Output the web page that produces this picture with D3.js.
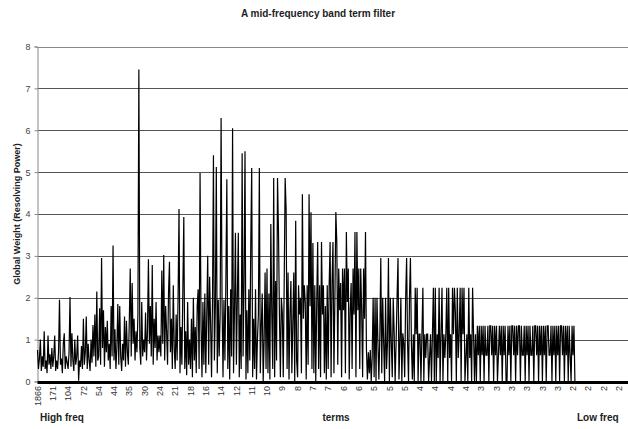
<!DOCTYPE html>
<html>
<head>
<meta charset="utf-8">
<script src="https://cdn.jsdelivr.net/npm/d3@7"></script>
<style>
body { margin: 0; background: #fff; }
text { font-family: Arial, 'Liberation Sans', sans-serif; }
</style>
</head>
<body>
<svg id="chart" width="628" height="429"></svg>
<script>
// term frequency shown under every 16th term
const termFreqLabels = ['1866', '171', '104', '72', '54', '44', '35', '30', '24', '21', '18', '16', '14',
    '12', '11', '10', '9', '8', '7', '7', '6', '6', '5', '5', '5', '4', '4', '4', '4',
    '3', '3', '3', '3', '3', '3', '2', '2', '2', '2'];

// global weight per term, high frequency terms first (one row = one label step)
const highFreqWeights = [
    0.75, 0.3, 0.55, 1.0, 0.25, 0.6, 0.35, 1.2, 0.3, 0.5, 0.2, 1.1, 0.4, 0.65, 0.3, 0.8,
    0.35, 0.6, 1.1, 0.25, 0.5, 0.3, 0.7, 1.95, 0.4, 0.55, 0.2, 0.9, 1.15, 0.3, 0.6, 0.45,
    0.3, 0.7, 2.02, 0.35, 1.15, 0.5, 0.25, 1.0, 0.4, 0.6, 1.1, 0.02, 0.5, 0.35, 0.85, 0.3,
    1.5, 0.4, 0.7, 1.55, 0.3, 0.9, 0.5, 0.25, 1.0, 0.45, 1.35, 0.6, 1.6, 0.35, 2.15, 0.5,
    0.6, 1.75, 0.4, 2.95, 0.8, 1.7, 0.35, 1.3, 0.7, 1.45, 0.5, 0.9, 0.3, 1.8, 0.6, 3.25,
    0.5, 1.25, 0.3, 0.8, 1.85, 0.4, 1.8, 0.6, 0.25, 0.9, 0.5, 1.55, 0.35, 1.45, 0.7, 0.4,
    1.45, 2.7, 0.6, 2.35, 0.9, 1.5, 0.5, 1.2, 0.7, 1.6, 7.45, 0.8, 0.4, 1.9, 0.6, 1.0,
    0.7, 1.65, 0.5, 1.2, 2.92, 0.9, 1.8, 0.6, 2.78, 0.4, 1.5, 0.8, 1.9, 0.5, 1.1, 0.7,
    1.1, 0.6, 2.65, 0.9, 3.02, 0.5, 1.8, 1.2, 0.4, 2.1, 2.86, 0.7, 1.5, 0.3, 2.3, 0.8,
    0.3, 1.6, 0.5, 2.0, 4.12, 0.2, 1.3, 0.4, 2.2, 3.93, 0.3, 1.2, 0.15, 1.9, 0.4, 1.0,
    0.3, 1.5, 0.1, 2.0, 0.5, 1.3, 0.2, 1.8, 2.2, 0.3, 4.98, 1.4, 0.1, 1.9, 0.4, 2.1,
    0.2, 1.6, 3.0, 0.4, 2.5, 1.4, 0.1, 1.9, 5.4, 0.5, 1.8, 5.12, 0.2, 1.95, 0.6, 1.6,
    6.29, 1.9, 0.1, 1.95, 0.5, 2.4, 4.83, 0.3, 1.8, 0.05, 2.2, 0.6, 6.05, 0.2, 1.7, 3.55
];

const midFreqWeights = [
    0.4, 2.0, 3.55, 0.1, 1.6, 0.3, 5.45, 0.6, 2.4, 5.5, 0.05, 1.7, 0.2, 2.2, 0.5, 3.2,
    5.1, 0.1, 1.5, 0.3, 2.2, 0.05, 1.0, 1.6, 5.1, 0.2, 1.3, 2.1, 0.0, 1.0, 2.6, 0.3,
    2.7, 0.2, 2.1, 0.05, 3.76, 1.6, 0.3, 4.86, 0.1, 2.4, 0.5, 4.86, 3.6, 1.6, 0.1, 2.0,
    1.65, 0.1, 2.4, 4.86, 4.1, 0.3, 2.6, 0.05, 1.6, 2.4, 0.2, 1.4, 2.6, 0.0, 3.84, 0.5,
    0.1, 2.3, 1.6, 2.0, 0.2, 4.47, 1.5, 2.3, 1.9, 0.05, 2.3, 0.4, 4.47, 1.8, 4.04, 0.3,
    3.31, 0.2, 2.3, 0.0, 1.9, 3.33, 0.3, 2.3, 0.1, 3.33, 1.6, 2.3, 0.2, 1.8, 0.05, 2.3,
    0.3, 2.3, 3.33, 0.1, 2.35, 3.33, 0.2, 2.0, 4.05, 3.33, 0.4, 2.7, 1.7, 2.35, 0.1, 2.7,
    1.7, 2.7, 0.2, 3.57, 1.9, 2.7, 0.05, 1.7, 2.35, 0.3, 2.7, 1.6, 3.57, 0.1, 3.57, 1.7,
    2.7, 0.3, 2.7, 1.7, 0.1, 2.7, 1.5, 3.57, 0.75, 0.05, 0.7, 0.2, 0.75, 0.0, 0.6, 2.0,
    0.1, 2.0, 0.0, 2.0, 0.92, 0.05, 1.1, 2.95, 0.2, 2.0, 0.92, 0.0, 2.0, 0.3, 0.92, 2.95,
    0.0, 2.0, 0.92, 0.1, 2.0, 1.15, 0.0, 0.92, 2.0, 2.95, 0.05, 0.92, 2.0, 0.0, 1.15, 0.92,
    0.1, 2.0, 2.95, 0.92, 0.0, 2.0, 2.95, 0.92, 0.05, 1.13, 0.0, 2.24, 1.13, 2.24, 0.0, 1.13
];

const lowFreqWeights = [
    1.13, 0.0, 1.13, 2.24, 0.0, 1.13, 0.56, 1.13, 1.13, 0.0, 0.56, 1.13, 0.0, 1.13, 2.24, 0.0,
    2.24, 0.0, 1.13, 0.56, 2.24, 0.0, 1.13, 2.24, 0.0, 1.13, 0.56, 1.13, 2.24, 0.0, 2.24, 0.56,
    1.13, 0.0, 2.24, 1.13, 2.24, 1.65, 0.0, 2.24, 0.56, 1.13, 2.24, 0.0, 2.24, 1.13, 2.24, 0.0,
    0.56, 1.13, 0.0, 2.24, 0.56, 1.13, 0.0, 2.24, 1.13, 0.0, 1.13, 0.0, 1.33, 0.63, 1.33, 0.0,
    1.33, 0.63, 1.33, 0.0, 1.33, 0.63, 0.63, 1.33, 0.0, 1.33, 1.33, 0.63, 1.33, 0.0, 1.33, 0.63,
    1.33, 0.0, 0.63, 1.33, 0.63, 1.33, 0.0, 1.33, 0.63, 1.33, 0.0, 0.0, 1.33, 0.63, 1.33, 0.0,
    1.33, 1.33, 0.63, 1.33, 0.0, 1.33, 0.63, 1.33, 1.33, 0.0, 1.33, 0.63, 0.63, 1.33, 0.0, 1.33,
    0.63, 1.33, 0.0, 1.33, 0.63, 0.63, 1.33, 0.0, 1.33, 1.33, 0.63, 1.33, 0.0, 1.33, 0.63, 1.33,
    0.0, 1.33, 0.63, 1.33, 0.0, 1.33, 1.33, 0.63, 0.63, 1.33, 0.0, 1.33, 0.63, 1.33, 0.0, 1.33,
    0.63, 1.33, 0.0, 1.33, 1.33, 0.63, 1.33, 0.0, 1.33, 0.63, 1.33, 0.0, 1.33, 0.63, 0.0, 1.33,
    0.63, 1.33, 0, 0, 0, 0, 0, 0, 0, 0, 0, 0, 0, 0, 0, 0,
    0, 0, 0, 0, 0, 0, 0, 0, 0, 0, 0, 0, 0, 0, 0, 0,
    0, 0, 0, 0, 0, 0, 0, 0, 0, 0, 0, 0, 0, 0, 0, 0,
    0, 0, 0, 0, 0, 0, 0, 0, 0, 0
];

const weightTicks = [0, 1, 2, 3, 4, 5, 6, 7, 8];

const weights = highFreqWeights.concat(midFreqWeights, lowFreqWeights);
const pointsPerLabel = 16;

const width = 628;
const height = 429;
const margin = {top: 46.5, left: 37.5, bottom: 47.5};
const labelStep = 15.3;

const svg = d3.select('#chart');

const x = d3.scaleLinear()
    .domain([0, weights.length - 1])
    .range([margin.left, margin.left + (weights.length - 1) * labelStep / pointsPerLabel]);
const y = d3.scaleLinear()
    .domain([0, 8])
    .range([height - margin.bottom, margin.top]);

// gridlines
svg.append('g').selectAll('line')
    .data(weightTicks.filter(d => d > 0))
    .enter()
    .append('line')
        .attr('x1', margin.left)
        .attr('x2', width)
        .attr('y1', d => Math.round(y(d)) + 0.5)
        .attr('y2', d => Math.round(y(d)) + 0.5)
        .attr('stroke', d => d == 8 ? '#8a8a8a' : '#555')
        .attr('stroke-width', 1);

// y axis
const yAxis = svg.append('g')
    .attr('transform', 'translate(' + margin.left + ',0)')
    .call(d3.axisLeft(y).tickValues(weightTicks).tickSize(3).tickPadding(4));
yAxis.select('.domain').attr('stroke', '#888');
yAxis.selectAll('.tick line').attr('stroke', '#888');
yAxis.selectAll('.tick text')
    .style('font-size', '9px')
    .attr('fill', '#444');

// weight line
svg.append('path')
    .datum(weights)
    .attr('fill', 'none')
    .attr('stroke', '#000')
    .attr('stroke-width', 1.2)
    .attr('d', d3.line()
        .x((d, i) => x(i))
        .y(d => y(d)));

// baseline
svg.append('line')
    .attr('x1', margin.left)
    .attr('x2', width)
    .attr('y1', y(0) + 1)
    .attr('y2', y(0) + 1)
    .attr('stroke', '#000')
    .attr('stroke-width', 3);

// category labels
svg.append('g').selectAll('text')
    .data(termFreqLabels)
    .enter()
    .append('text')
        .attr('transform', (d, i) => 'translate(' + x(i * pointsPerLabel) + ',386) rotate(-90)')
        .attr('text-anchor', 'end')
        .attr('dy', '0.35em')
        .style('font-size', '9px')
        .attr('fill', '#333')
        .text(d => d);

svg.append('text')
    .attr('x', 318)
    .attr('y', 17)
    .attr('text-anchor', 'middle')
    .style('font-size', '10px')
    .style('font-weight', 'bold')
    .attr('fill', '#222')
    .text('A mid-frequency band term filter');

svg.append('text')
    .attr('transform', 'translate(17,' + y(4) + ') rotate(-90)')
    .attr('text-anchor', 'middle')
    .attr('dy', '0.35em')
    .style('font-size', '9px')
    .style('font-weight', 'bold')
    .attr('fill', '#222')
    .text('Global Weight (Resolving Power)');

svg.append('text')
    .attr('x', 40)
    .attr('y', 421)
    .style('font-size', '10px')
    .style('font-weight', 'bold')
    .attr('fill', '#222')
    .text('High freq');

svg.append('text')
    .attr('x', 336)
    .attr('y', 421)
    .attr('text-anchor', 'middle')
    .style('font-size', '10px')
    .style('font-weight', 'bold')
    .attr('fill', '#222')
    .text('terms');

svg.append('text')
    .attr('x', 577)
    .attr('y', 421)
    .style('font-size', '10px')
    .style('font-weight', 'bold')
    .attr('fill', '#222')
    .text('Low freq');
</script>
</body>
</html>
